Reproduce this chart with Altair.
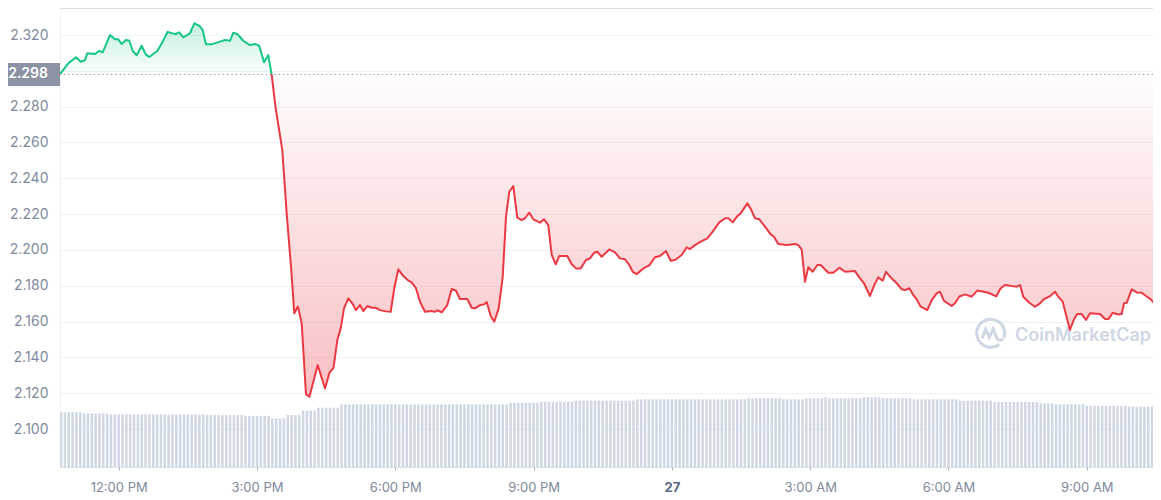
import json
import altair as alt
import numpy as np
import pandas as pd

# ---------------- data ----------------
BASE = 2.298  # opening price (dotted reference line)

# time in hours counted from 00:00 on the 26th
PRICE_T = [
    10.727, 10.907, 11.074, 11.176, 11.269, 11.319, 11.486, 11.573, 11.653, 11.811,
    11.920, 11.991, 12.065, 12.158, 12.230, 12.304, 12.390, 12.499, 12.586, 12.664,
    12.766, 12.837, 12.954, 13.063, 13.150, 13.236, 13.315, 13.401, 13.547, 13.640,
    13.748, 13.822, 13.894, 14.017, 14.197, 14.306, 14.414, 14.486, 14.573, 14.703,
    14.848, 14.957, 15.050, 15.152, 15.245, 15.319, 15.406, 15.549, 15.644, 15.738,
    15.809, 15.889, 15.970, 16.063, 16.139, 16.317, 16.475, 16.573, 16.659, 16.742,
    16.816, 16.887, 16.981, 17.067, 17.147, 17.234, 17.306, 17.393, 17.488, 17.582,
    17.668, 17.798, 17.900, 17.978, 18.065, 18.174, 18.269, 18.356, 18.449, 18.536,
    18.644, 18.768, 18.861, 18.911, 19.007, 19.128, 19.223, 19.317, 19.403, 19.562,
    19.657, 19.729, 19.837, 19.924, 19.983, 20.070, 20.148, 20.243, 20.330, 20.401,
    20.473, 20.560, 20.646, 20.742, 20.814, 20.907, 20.994, 21.139, 21.226, 21.319,
    21.393, 21.480, 21.557, 21.731, 21.827, 21.920, 22.022, 22.137, 22.224, 22.311,
    22.382, 22.477, 22.642, 22.766, 22.874, 22.983, 23.076, 23.150, 23.236, 23.380,
    23.510, 23.633, 23.742, 23.872, 23.974, 24.067, 24.213, 24.321, 24.393, 24.501,
    24.625, 24.768, 24.885, 25.028, 25.152, 25.224, 25.319, 25.419, 25.492, 25.636,
    25.716, 25.803, 25.896, 26.020, 26.143, 26.215, 26.308, 26.490, 26.670, 26.742,
    26.815, 26.887, 26.959, 27.055, 27.154, 27.228, 27.393, 27.501, 27.632, 27.755,
    27.972, 28.065, 28.167, 28.297, 28.390, 28.477, 28.573, 28.645, 28.768, 28.877,
    28.985, 29.057, 29.150, 29.237, 29.310, 29.397, 29.540, 29.636, 29.744, 29.815,
    29.902, 30.070, 30.141, 30.235, 30.358, 30.503, 30.625, 30.863, 31.037, 31.128,
    31.225, 31.393, 31.480, 31.552, 31.623, 31.753, 31.877, 31.985, 32.072, 32.187,
    32.310, 32.382, 32.477, 32.635, 32.722, 32.794, 32.890, 32.983, 33.070, 33.287,
    33.395, 33.467, 33.562, 33.683, 33.757, 33.807, 33.865, 33.974, 34.082, 34.191,
    34.285, 34.387, 34.480, 34.552,
]
PRICE = [
    2.2982, 2.3042, 2.3076, 2.3051, 2.3060, 2.3098, 2.3094, 2.3111, 2.3103, 2.3200,
    2.3176, 2.3176, 2.3150, 2.3172, 2.3168, 2.3112, 2.3087, 2.3140, 2.3092, 2.3077,
    2.3098, 2.3111, 2.3163, 2.3218, 2.3210, 2.3206, 2.3215, 2.3187, 2.3210, 2.3265,
    2.3252, 2.3228, 2.3148, 2.3148, 2.3163, 2.3172, 2.3168, 2.3213, 2.3206, 2.3168,
    2.3144, 2.3150, 2.3139, 2.3048, 2.3088, 2.2977, 2.2791, 2.2558, 2.2204, 2.1906,
    2.1646, 2.1684, 2.1590, 2.1193, 2.1181, 2.1357, 2.1226, 2.1315, 2.1341, 2.1497,
    2.1562, 2.1674, 2.1730, 2.1702, 2.1664, 2.1692, 2.1659, 2.1687, 2.1677, 2.1677,
    2.1664, 2.1657, 2.1655, 2.1786, 2.1892, 2.1854, 2.1832, 2.1819, 2.1786, 2.1711,
    2.1655, 2.1659, 2.1655, 2.1663, 2.1652, 2.1692, 2.1782, 2.1772, 2.1726, 2.1726,
    2.1677, 2.1674, 2.1692, 2.1696, 2.1709, 2.1631, 2.1599, 2.1674, 2.1850, 2.2185,
    2.2325, 2.2357, 2.2180, 2.2167, 2.2177, 2.2208, 2.2171, 2.2152, 2.2171, 2.2139,
    2.1972, 2.1920, 2.1966, 2.1966, 2.1920, 2.1897, 2.1897, 2.1944, 2.1953, 2.1984,
    2.1990, 2.1962, 2.2003, 2.1987, 2.1953, 2.1948, 2.1916, 2.1878, 2.1865, 2.1897,
    2.1914, 2.1959, 2.1966, 2.1994, 2.1940, 2.1944, 2.1972, 2.2015, 2.2005, 2.2027,
    2.2046, 2.2065, 2.2102, 2.2154, 2.2177, 2.2177, 2.2154, 2.2189, 2.2204, 2.2260,
    2.2227, 2.2177, 2.2171, 2.2130, 2.2087, 2.2074, 2.2033, 2.2027, 2.2033, 2.2027,
    2.2003, 2.1822, 2.1903, 2.1878, 2.1916, 2.1916, 2.1873, 2.1873, 2.1901, 2.1878,
    2.1882, 2.1847, 2.1814, 2.1743, 2.1804, 2.1847, 2.1828, 2.1878, 2.1841, 2.1814,
    2.1780, 2.1776, 2.1786, 2.1748, 2.1724, 2.1683, 2.1664, 2.1720, 2.1758, 2.1767,
    2.1716, 2.1687, 2.1702, 2.1740, 2.1752, 2.1739, 2.1773, 2.1761, 2.1741, 2.1785,
    2.1804, 2.1798, 2.1795, 2.1804, 2.1739, 2.1705, 2.1683, 2.1702, 2.1726, 2.1739,
    2.1767, 2.1739, 2.1711, 2.1553, 2.1613, 2.1642, 2.1642, 2.1609, 2.1646, 2.1642,
    2.1614, 2.1614, 2.1649, 2.1640, 2.1642, 2.1702, 2.1705, 2.1780, 2.1763, 2.1761,
    2.1743, 2.1724, 2.1696, 2.1711,
]

# volume bars: one every 5 minutes, levels read as a step profile (billions USD)
VOL_START = 10.75
VOL_STEP_MIN = 5
VOL_COUNT = 287
VOL_SEG_END = [11.23, 11.81, 13.87, 14.74, 15.28, 15.65, 15.93, 16.30, 16.80, 20.45,
               21.14, 21.86, 23.24, 25.63, 26.35, 26.89, 27.26, 27.36, 28.12, 28.51,
               29.23, 30.18, 30.97, 31.92, 32.27, 33.00, 33.87, 35.00]
VOL_LEVEL = [4.77, 4.66, 4.59, 4.53, 4.45, 4.24, 4.53, 4.91, 5.17, 5.46,
             5.60, 5.69, 5.78, 5.90, 5.99, 5.90, 5.99, 6.07, 5.99, 6.07,
             5.99, 5.90, 5.78, 5.67, 5.55, 5.46, 5.34, 5.26]

X_TICKS = [12, 15, 18, 21, 24, 27, 30, 33]
X_LABELS = ["12:00 PM", "3:00 PM", "6:00 PM", "9:00 PM", "27", "3:00 AM", "6:00 AM", "9:00 AM"]
Y_TICKS = [2.10, 2.12, 2.14, 2.16, 2.18, 2.20, 2.22, 2.24, 2.26, 2.28, 2.30, 2.32]

# ---------------- tables ----------------
price_df = pd.DataFrame({"t": PRICE_T, "p": PRICE})
price_df["pg"] = price_df["p"].clip(lower=BASE)
price_df["pr"] = price_df["p"].clip(upper=BASE)

vol_t = VOL_START + np.arange(VOL_COUNT) * VOL_STEP_MIN / 60.0
vol_v = [VOL_LEVEL[int(np.searchsorted(VOL_SEG_END, t, side="right"))] for t in vol_t]
vol_df = pd.DataFrame({"t": vol_t, "v": vol_v})

base_df = pd.DataFrame({"b": [BASE]})
one_df = pd.DataFrame({"k": [0]})

# ---------------- styling ----------------
W, H = 1093, 459
GREEN = "#16c784"
RED = "#ea3943"
LABEL = "#808a9d"
GRID = "#eff2f5"

X_SCALE = alt.Scale(domain=[10.727, 34.436], nice=False, zero=False)
Y_SCALE = alt.Scale(domain=[2.0788, 2.3351], nice=False, zero=False)

x_axis = alt.Axis(
    values=X_TICKS,
    labelExpr=f"{json.dumps(X_LABELS)}[indexof({json.dumps(X_TICKS)}, datum.value)]",
    grid=False, domain=False, ticks=True, tickSize=3, tickColor="#a6b0c3",
    labelFont="Inter", labelFontSize=13, labelPadding=11, labelOverlap=False,
    labelFlush=False,
    labelColor={"condition": {"test": "datum.value == 24", "value": "#58667e"}, "value": LABEL},
    labelFontWeight={"condition": {"test": "datum.value == 24", "value": 700}, "value": 400},
    title=None,
)
y_axis = alt.Axis(
    values=Y_TICKS, orient="left",
    labelExpr=f"abs(datum.value - {BASE}) < 0.005 ? '' : format(datum.value, '.3f')",
    grid=True, gridColor=GRID, gridWidth=1,
    domain=True, domainColor=GRID, ticks=False,
    labelFont="Inter", labelFontSize=14, labelColor=LABEL, labelPadding=12,
    labelOverlap=False, title=None,
)

X = alt.X("t:Q", scale=X_SCALE, axis=x_axis)

pmax, pmin = max(PRICE), min(PRICE)
off = (pmax - BASE) / (pmax - pmin)
line_grad = alt.Gradient(
    gradient="linear", x1=0, x2=0, y1=0, y2=1,
    stops=[alt.GradientStop(color=GREEN, offset=0), alt.GradientStop(color=GREEN, offset=off),
           alt.GradientStop(color=RED, offset=off), alt.GradientStop(color=RED, offset=1)],
)
green_fill = alt.Gradient(
    gradient="linear", x1=0, x2=0, y1=0, y2=1,
    stops=[alt.GradientStop(color="rgba(22,199,132,0.26)", offset=0),
           alt.GradientStop(color="rgba(22,199,132,0.02)", offset=1)],
)
red_fill = alt.Gradient(
    gradient="linear", x1=0, x2=0, y1=0, y2=1,
    stops=[alt.GradientStop(color="rgba(234,57,67,0.01)", offset=0),
           alt.GradientStop(color="rgba(234,57,67,0.32)", offset=1)],
)

# ---------------- layers ----------------
vol = alt.Chart(vol_df).mark_rule(strokeWidth=2.5, color="#cfd6e4", clip=True).encode(
    x=X,
    y=alt.Y("v:Q", scale=alt.Scale(domain=[0, 40], nice=False, zero=True), axis=None),
    y2=alt.datum(0),
)

pc = alt.Chart(price_df)
area_g = pc.mark_area(color=green_fill, clip=True).encode(
    x=X, y=alt.Y("pg:Q", scale=Y_SCALE, axis=y_axis), y2=alt.datum(BASE))
area_r = pc.mark_area(color=red_fill, clip=True).encode(
    x=X, y=alt.Y("pr:Q", scale=Y_SCALE, axis=y_axis), y2=alt.datum(BASE))
line = pc.mark_line(stroke=line_grad, strokeWidth=2, strokeJoin="round", clip=True).encode(
    x=X, y=alt.Y("p:Q", scale=Y_SCALE, axis=y_axis))

bc = alt.Chart(base_df)
rule = bc.mark_rule(strokeDash=[1.5, 2.8], color="#9aa1ad", strokeWidth=1).encode(
    y=alt.Y("b:Q", scale=Y_SCALE, axis=y_axis))
box = bc.mark_rect(color="#8c93a5", yOffset=-11.5, y2Offset=11.5).encode(
    x=alt.value(-52), x2=alt.value(0),
    y=alt.Y("b:Q", scale=Y_SCALE, axis=y_axis), y2=alt.Y2("b:Q"))
box_text = bc.mark_text(align="right", baseline="middle", color="white",
                        font="Inter", fontSize=14, fontWeight=600).encode(
    x=alt.value(-12), y=alt.Y("b:Q", scale=Y_SCALE, axis=y_axis),
    text=alt.Text("b:Q", format=".3f"))

LOGO = ("M 0.94 0.34 A 1 1 0 1 0 0.62 0.78 "
        "M -0.62 0.36 L -0.36 -0.3 L -0.1 0.28 L 0.18 -0.32 L 0.42 0.3 Q 0.56 0.6 0.9 0.42")
wc = alt.Chart(one_df)
wm_logo = wc.mark_point(shape=LOGO, filled=False, size=784, strokeWidth=3,
                        color="#cfd6e4", opacity=1).encode(x=alt.value(930.7), y=alt.value(325.3))
wm_text = wc.mark_text(align="left", baseline="middle", font="Inter", fontSize=18,
                       fontWeight=600, color="#cfd6e4").encode(
    x=alt.value(955), y=alt.value(327.5), text=alt.value("CoinMarketCap"))

price_layer = alt.layer(area_g, area_r, wm_logo, wm_text, rule, line, box, box_text)

chart = (
    alt.layer(vol, price_layer)
    .resolve_scale(y="independent")
    .properties(
        width=W, height=H, background="white",
        autosize=alt.AutoSizeParams(type="none"),
        padding={"left": 52, "top": 0, "right": 0, "bottom": 30},
    )
    .configure_view(stroke=None)
    .configure(font="Inter")
)

chart.save("out.html", embed_options={"renderer": "svg", "actions": False})
